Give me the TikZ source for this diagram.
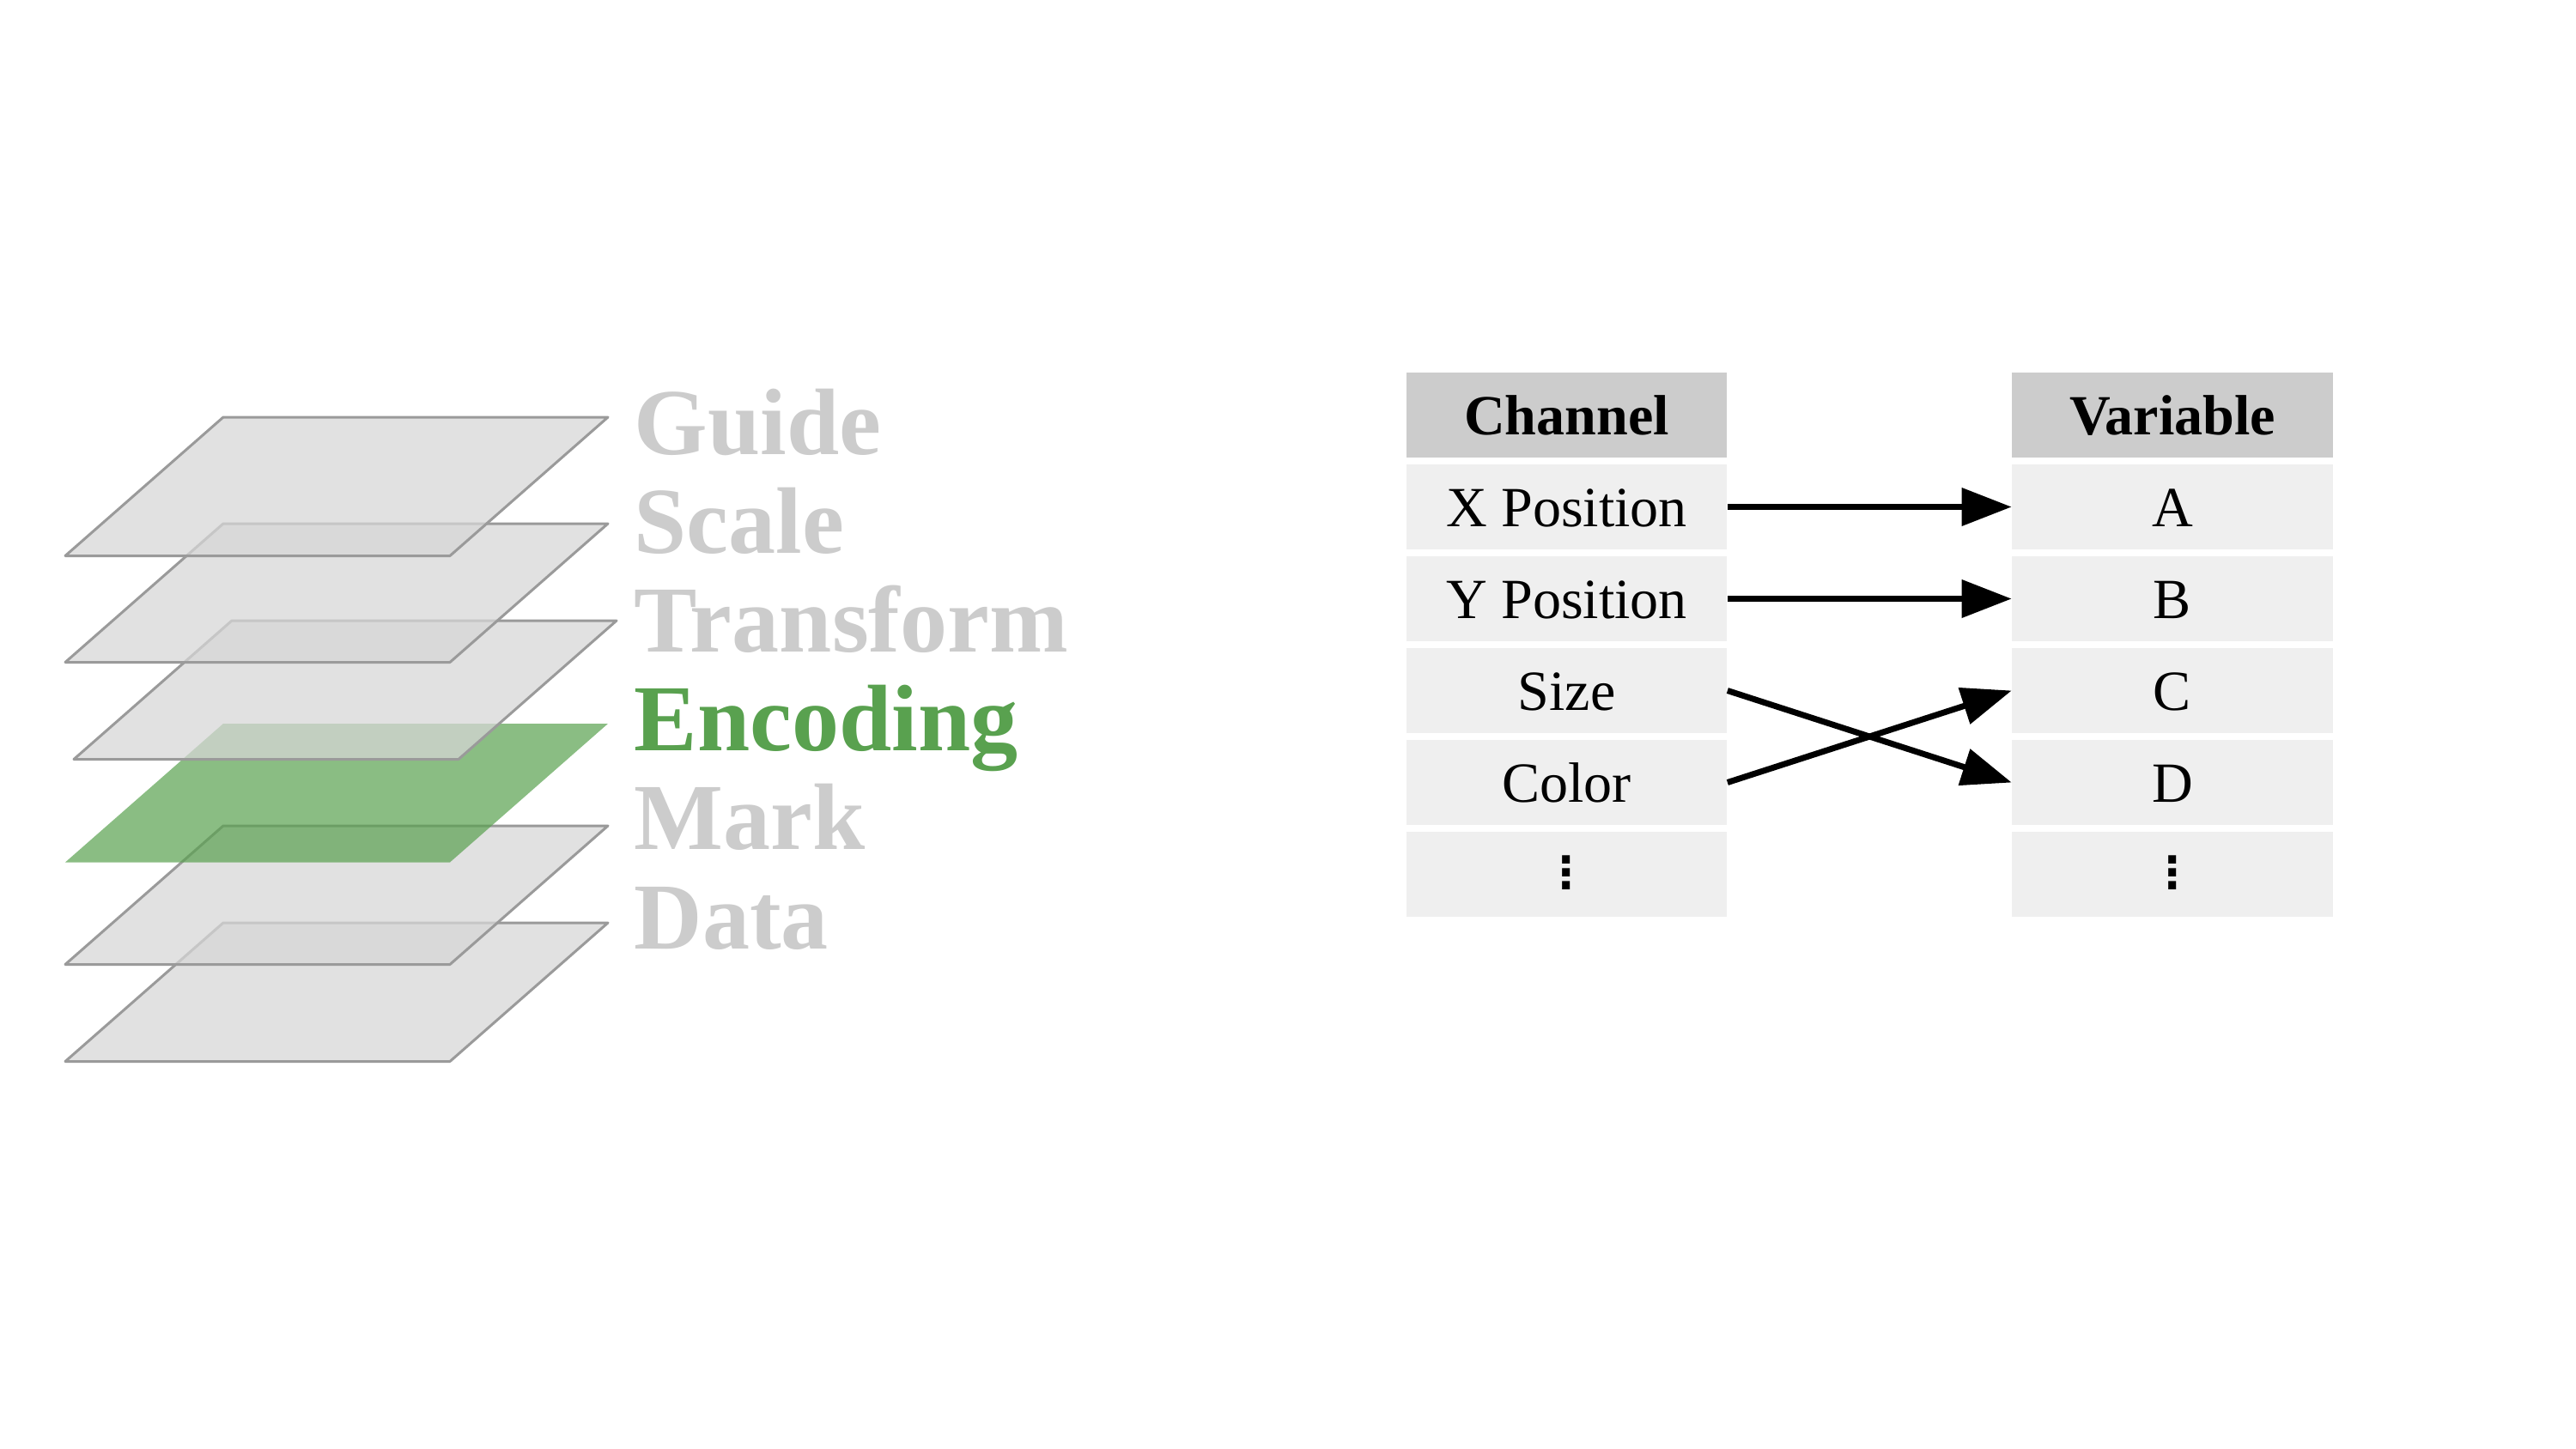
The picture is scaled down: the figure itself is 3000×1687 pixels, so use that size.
\documentclass[tikz,border=0pt]{standalone}
\usepackage{fontspec}
\setmainfont{Liberation Serif}
\newfontfamily\dotsfont{DejaVu Sans}
\usepackage{tikz}
\usetikzlibrary{arrows.meta}

\definecolor{layerfill}{HTML}{D6D6D6}
\definecolor{layeredge}{HTML}{9A9A9A}
\definecolor{encgreen}{HTML}{59A14F}
\definecolor{labelgray}{HTML}{CCCCCC}
\definecolor{headgray}{HTML}{CCCCCC}
\definecolor{rowgray}{HTML}{EFEFEF}

\begin{document}
\begin{tikzpicture}[x=0.01cm, y=-0.01cm,
    layer/.style={fill=layerfill, fill opacity=0.74, draw=layeredge, line width=0.03cm, line join=round},
    enclayer/.style={fill=encgreen, fill opacity=0.7},
    lbl/.style={anchor=base west, inner sep=0pt, text=labelgray, font=\fontsize{31.3}{36}\selectfont\bfseries},
    cell/.style={fill=rowgray, minimum width=3.73cm, minimum height=0.99cm, inner sep=0pt,
                 text height=0.46cm, text depth=0pt, font=\fontsize{18.8}{22}\selectfont},
    head/.style={cell, fill=headgray, font=\fontsize{18.8}{22}\selectfont\bfseries},
    morecell/.style={cell, text height=0.31cm, font=\fontsize{14.6}{18}\selectfont\dotsfont\bfseries},
    map/.style={-{Triangle[length=0.58cm, width=0.43cm]}, line width=0.07cm}]

    \useasboundingbox (0,0) rectangle (3000,1687);

    % Layers, drawn from the bottom up
    \draw[layer] (76,1236.5) -- ++(448,0) -- ++(184,-161.5) -- ++(-448,0) -- cycle; % data
    \draw[layer] (76,1123.5) -- ++(448,0) -- ++(184,-161.5) -- ++(-448,0) -- cycle; % mark
    \fill[enclayer] (76,1004.5) -- ++(448,0) -- ++(184,-161.5) -- ++(-448,0) -- cycle; % encoding
    \draw[layer] (86,884.5) -- ++(448,0) -- ++(184,-161.5) -- ++(-448,0) -- cycle; % transform
    \draw[layer] (76,771.5) -- ++(448,0) -- ++(184,-161.5) -- ++(-448,0) -- cycle; % scale
    \draw[layer] (76,647.5) -- ++(448,0) -- ++(184,-161.5) -- ++(-448,0) -- cycle; % guide

    % Layer names
    \node[lbl] (guide) at (738,529) {Guide};
    \node[lbl] (scale) at (738,644.2) {Scale};
    \node[lbl] (transform) at (738,759.4) {Transform};
    \node[lbl, text=encgreen] (encoding) at (738,874.6) {Encoding};
    \node[lbl] (mark) at (738,989.8) {Mark};
    \node[lbl] (data) at (738,1105) {Data};

    % Channel column
    \node[head] (ch0) at (1824.5,483.5) {Channel};
    \node[cell] (ch1) at (1824.5,590.5) {X Position};
    \node[cell] (ch2) at (1824.5,697.5) {Y Position};
    \node[cell] (ch3) at (1824.5,804.5) {Size};
    \node[cell] (ch4) at (1824.5,911.5) {Color};
    \node[morecell] (ch5) at (1824.5,1018.5) {⋮};

    % Variable column
    \node[head] (var0) at (2530,483.5) {Variable};
    \node[cell] (var1) at (2530,590.5) {A};
    \node[cell] (var2) at (2530,697.5) {B};
    \node[cell] (var3) at (2530,804.5) {C};
    \node[cell] (var4) at (2530,911.5) {D};
    \node[morecell] (var5) at (2530,1018.5) {⋮};

    % Mappings
    \draw[map] (ch1.east) -- (var1.west);
    \draw[map] (ch2.east) -- (var2.west);
    \draw[map] (ch3.east) -- (var4.west);
    \draw[map] (ch4.east) -- (var3.west);

\end{tikzpicture}
\end{document}
